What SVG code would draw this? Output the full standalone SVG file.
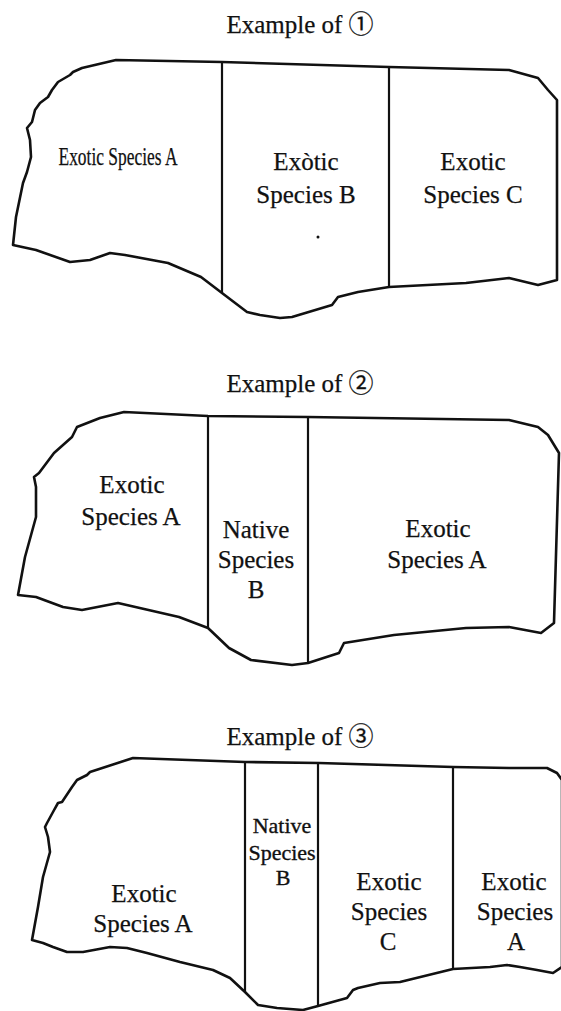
<svg xmlns="http://www.w3.org/2000/svg" width="561" height="1011" viewBox="0 0 561 1011">
  <style>
    .outline { fill: none; stroke: #111; stroke-width: 2.6; stroke-linejoin: round; stroke-linecap: round; }
    .divider { fill: none; stroke: #111; stroke-width: 2.2; }
    .title { font-family: "Liberation Serif", "Noto Sans CJK JP", serif; font-size: 25px; fill: #111; stroke: #111; stroke-width: 0.25; text-anchor: middle; }
    .label { font-family: "Liberation Serif", "Times New Roman", serif; font-size: 25px; fill: #111; stroke: #111; stroke-width: 0.25; text-anchor: middle; }
    .label-sm { font-family: "Liberation Serif", "Times New Roman", serif; font-size: 22px; fill: #111; stroke: #111; stroke-width: 0.35; text-anchor: middle; }
  </style>
  <rect width="561" height="1011" fill="#fff"/>

  <!-- Example 1: three exotic strips -->
  <g id="panel-1">
    <text class="title" x="300" y="33">Example of ①</text>
    <polygon class="outline" points="116,60 222,62 389,67 509,70 538,78 548,90 557,100 557,280 538,285 509,278 466,283 389,287 358,292 338,297 332,305 292,317 280,318 260,315 247,312 222,293 201,277 168,263 125,255 110,253 90,260 70,262 36,250 13,245 16,217 23,183 27,172 31,157 30,140 27,128 32,122 35,110 40,103 48,97 52,90 58,82 70,75 73,72 82,68"/>
    <g id="dividers-1">
      <line class="divider" x1="222" y1="62" x2="222" y2="293"/>
      <line class="divider" x1="389" y1="67" x2="389" y2="287"/>
    </g>
    <g id="region-1a">
      <text class="label" x="118" y="165" font-size="22" stroke-width="0.4" textLength="119" lengthAdjust="spacingAndGlyphs">Exotic Species A</text>
    </g>
    <g id="region-1b">
      <text class="label" x="306" y="170">Exòtic</text>
      <text class="label" x="306" y="203">Species B</text>
      <circle cx="318" cy="237" r="1.5" fill="#111"/>
    </g>
    <g id="region-1c">
      <text class="label" x="473" y="170">Exotic</text>
      <text class="label" x="473" y="203">Species C</text>
    </g>
  </g>

  <!-- Example 2: native strip between exotic ones -->
  <g id="panel-2">
    <text class="title" x="300" y="392">Example of ②</text>
    <polygon class="outline" points="124,412 208,416 308,417 509,420 538,427 548,435 559,453 554,623 541,633 509,627 466,628 394,635 344,643 339,653 308,663 292,665 251,660 229,648 208,628 179,617 118,603 82,610 63,607 36,597 18,595 25,557 36,517 36,487 34,477 39,473 54,453 72,437 77,427 100,418"/>
    <g id="dividers-2">
      <line class="divider" x1="208" y1="416" x2="208" y2="628"/>
      <line class="divider" x1="308" y1="417" x2="308" y2="663"/>
    </g>
    <g id="region-2a">
      <text class="label" x="132" y="493">Exotic</text>
      <text class="label" x="131" y="525">Species A</text>
    </g>
    <g id="region-2b">
      <text class="label" x="256" y="538">Native</text>
      <text class="label" x="256" y="568">Species</text>
      <text class="label" x="256" y="598">B</text>
    </g>
    <g id="region-2c">
      <text class="label" x="438" y="537">Exotic</text>
      <text class="label" x="437" y="568">Species A</text>
    </g>
  </g>

  <!-- Example 3: four strips, right edge runs past the frame -->
  <g id="panel-3">
    <text class="title" x="300" y="745">Example of ③</text>
    <polygon class="outline" points="133,758 245,762 319,763 453,767 509,768 547,768 557,773 562,780 562,967 553,973 537,970 520,967 507,965 490,967 453,969 400,982 380,983 358,988 353,990 347,998 318,1006 303,1010 277,1008 258,1005 245,992 230,978 213,970 180,962 147,953 127,948 110,947 83,952 67,952 53,947 43,943 32,940 38,907 43,877 50,852 48,837 45,827 47,823 53,812 58,803 62,802 72,787 77,780 87,775 90,772"/>
    <g id="dividers-3">
      <line class="divider" x1="245" y1="762" x2="245" y2="992"/>
      <line class="divider" x1="318" y1="763" x2="318" y2="1006"/>
      <line class="divider" x1="453" y1="767" x2="453" y2="969"/>
    </g>
    <g id="region-3a">
      <text class="label" x="144" y="902">Exotic</text>
      <text class="label" x="143" y="932">Species A</text>
    </g>
    <g id="region-3b">
      <text class="label-sm" x="282" y="833">Native</text>
      <text class="label-sm" x="282" y="860">Species</text>
      <text class="label-sm" x="283" y="885">B</text>
    </g>
    <g id="region-3c">
      <text class="label" x="389" y="890">Exotic</text>
      <text class="label" x="389" y="920">Species</text>
      <text class="label" x="388" y="950">C</text>
    </g>
    <g id="region-3d">
      <text class="label" x="514" y="890">Exotic</text>
      <text class="label" x="515" y="920">Species</text>
      <text class="label" x="516" y="950">A</text>
    </g>
  </g>
</svg>
